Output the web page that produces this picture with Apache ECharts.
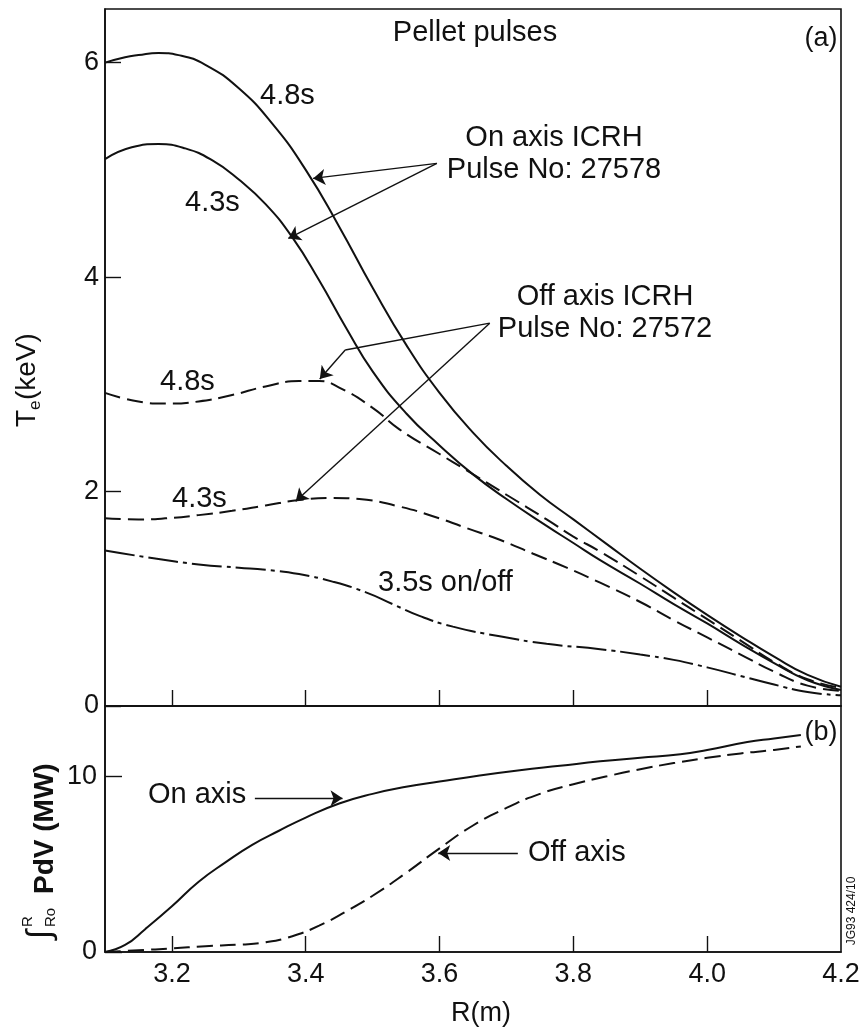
<!DOCTYPE html>
<html>
<head>
<meta charset="utf-8">
<script src="https://cdn.jsdelivr.net/npm/echarts@6/dist/echarts.min.js"></script>
<style>
  html, body { margin: 0; padding: 0; background: #fff; }
  #chart { width: 866px; height: 1033px; }
</style>
</head>
<body>
<div id="chart"></div>
<script>
// ---- Tick positions and labels ----
const R_TICKS = [3.2, 3.4, 3.6, 3.8, 4.0, 4.2];
const T_TICKS = [0, 2, 4, 6];
const P_TICKS = [0, 10];

// ---- (a) Electron temperature profiles, Te (keV) vs R (m) ----
// On axis ICRH, pulse 27578, t = 4.8 s
const R_on48 = [3.10, 3.13, 3.15, 3.18, 3.21, 3.25, 3.30, 3.35, 3.40, 3.45, 3.50, 3.55, 3.60, 3.65, 3.70, 3.75, 3.80, 3.85, 3.90, 3.95, 4.00, 4.05, 4.10, 4.15, 4.20];
const T_on48 = [6.00, 6.05, 6.07, 6.09, 6.07, 5.98, 5.76, 5.43, 5.00, 4.47, 3.90, 3.37, 2.92, 2.55, 2.24, 1.97, 1.74, 1.51, 1.28, 1.06, 0.85, 0.65, 0.46, 0.29, 0.18];
// On axis ICRH, pulse 27578, t = 4.3 s
const R_on43 = [3.10, 3.14, 3.18, 3.22, 3.26, 3.30, 3.34, 3.38, 3.42, 3.46, 3.50, 3.55, 3.60, 3.65, 3.70, 3.76, 3.80, 3.84, 3.90, 3.95, 4.00, 4.05, 4.10, 4.15, 4.20];
const T_on43 = [5.10, 5.21, 5.24, 5.20, 5.09, 4.91, 4.68, 4.37, 3.97, 3.53, 3.12, 2.73, 2.43, 2.16, 1.93, 1.68, 1.52, 1.36, 1.14, 0.95, 0.77, 0.58, 0.40, 0.24, 0.15];
// Off axis ICRH, pulse 27572, t = 4.8 s
const R_off48 = [3.10, 3.15, 3.19, 3.24, 3.29, 3.34, 3.39, 3.42, 3.45, 3.50, 3.54, 3.60, 3.64, 3.70, 3.76, 3.80, 3.84, 3.90, 3.95, 4.00, 4.05, 4.10, 4.15, 4.20];
const T_off48 = [2.92, 2.84, 2.82, 2.84, 2.90, 2.98, 3.03, 3.03, 2.97, 2.78, 2.58, 2.35, 2.20, 1.97, 1.74, 1.58, 1.44, 1.21, 1.01, 0.81, 0.61, 0.41, 0.25, 0.17];
// Off axis ICRH, pulse 27572, t = 4.3 s
const R_off43 = [3.10, 3.15, 3.19, 3.24, 3.29, 3.34, 3.39, 3.44, 3.48, 3.54, 3.59, 3.64, 3.69, 3.74, 3.79, 3.84, 3.90, 3.95, 4.00, 4.05, 4.10, 4.15, 4.20];
const T_off43 = [1.75, 1.74, 1.75, 1.78, 1.82, 1.87, 1.92, 1.94, 1.93, 1.86, 1.77, 1.66, 1.55, 1.42, 1.29, 1.15, 0.97, 0.80, 0.64, 0.48, 0.32, 0.19, 0.14];
// Both pulses, t = 3.5 s (before ICRH)
const R_35 = [3.10, 3.17, 3.24, 3.30, 3.34, 3.39, 3.44, 3.49, 3.53, 3.57, 3.62, 3.69, 3.76, 3.84, 3.90, 3.95, 4.00, 4.05, 4.10, 4.15, 4.20];
const T_35 = [1.45, 1.38, 1.32, 1.29, 1.27, 1.23, 1.16, 1.06, 0.95, 0.84, 0.74, 0.65, 0.58, 0.53, 0.48, 0.43, 0.36, 0.28, 0.20, 0.13, 0.10];

// ---- (b) Integrated ICRH power deposition (MW) vs R (m) ----
const R_pOn = [3.10, 3.13, 3.16, 3.20, 3.24, 3.28, 3.32, 3.36, 3.40, 3.45, 3.50, 3.55, 3.60, 3.66, 3.72, 3.78, 3.84, 3.90, 3.96, 4.00, 4.06, 4.10, 4.14];
const P_on = [0.0, 0.4, 1.3, 2.6, 4.0, 5.1, 6.1, 6.9, 7.65, 8.45, 9.0, 9.4, 9.7, 10.05, 10.35, 10.6, 10.85, 11.05, 11.25, 11.5, 11.95, 12.15, 12.35];
const R_pOff = [3.10, 3.15, 3.20, 3.25, 3.30, 3.34, 3.38, 3.42, 3.46, 3.50, 3.55, 3.60, 3.65, 3.70, 3.75, 3.80, 3.85, 3.90, 3.95, 4.00, 4.05, 4.10, 4.14];
const P_off = [0.0, 0.1, 0.2, 0.33, 0.42, 0.55, 0.9, 1.5, 2.3, 3.2, 4.5, 5.9, 7.2, 8.2, 9.0, 9.55, 10.0, 10.4, 10.75, 11.05, 11.3, 11.5, 11.7];

// ---- Annotation arrows, in data coordinates (tail, head) ----
const arrowsA = [
  [[3.596, 5.06], [3.411, 4.92]],
  [[3.596, 5.06], [3.374, 4.36]],
  [[3.459, 3.32], [3.421, 3.05]],
  [[3.675, 3.57], [3.385, 1.91]]
];
// plain leader segment feeding the bent arrow above
const leadersA = [
  [[3.675, 3.57], [3.459, 3.32]]
];
const arrowsB = [
  [[3.324, 8.75], [3.455, 8.75]],
  [[3.717, 5.63], [3.598, 5.63]]
];

const zip = (xs, ys) => xs.map((x, i) => [x, ys[i]]);

const FONT = "'Liberation Sans', Arial, Helvetica, sans-serif";
const INK = '#111';
const DASH = [16, 7];
const DASH_DOT = [30, 5, 4, 5];

function curve(name, xs, ys, dash, gi) {
  return {
    name, type: 'line', xAxisIndex: gi, yAxisIndex: gi,
    data: zip(xs, ys), showSymbol: false, smooth: 0.5, silent: true,
    lineStyle: { color: INK, width: 2, type: dash }
  };
}

function segments(list, gi, withHead) {
  return {
    type: 'lines', coordinateSystem: 'cartesian2d', xAxisIndex: gi, yAxisIndex: gi,
    polyline: false, silent: true, z: 5,
    symbol: withHead ? ['none', 'arrow'] : ['none', 'none'], symbolSize: 12,
    itemStyle: { color: INK },
    lineStyle: { color: INK, width: 1.4, opacity: 1, curveness: 0 },
    data: list.map(c => ({ coords: c }))
  };
}

function label(text, x, y, align, size, extra) {
  return {
    type: 'text', x, y, silent: true,
    style: Object.assign({
      text, fill: INK, font: (size || 29) + 'px ' + FONT,
      textAlign: align || 'left', textVerticalAlign: 'middle',
      align: align || 'left', verticalAlign: 'middle'
    }, extra || {})
  };
}

const axisLineStyle = { lineStyle: { color: INK, width: 1.6 } };

const option = {
  backgroundColor: '#fff',
  animation: false,
  grid: [
    { left: 105, right: 25, top: 9, height: 697, show: true, borderColor: INK, borderWidth: 1.6, backgroundColor: 'transparent' },
    { left: 105, right: 25, top: 706, height: 246, show: true, borderColor: INK, borderWidth: 1.6, backgroundColor: 'transparent' }
  ],
  xAxis: [
    {
      gridIndex: 0, type: 'value', min: 3.1, max: 4.2,
      axisLine: axisLineStyle, splitLine: { show: false },
      axisTick: { inside: true, length: 16, customValues: R_TICKS.slice(0, -1), lineStyle: { color: INK, width: 1.4 } },
      axisLabel: { show: false }
    },
    {
      gridIndex: 1, type: 'value', min: 3.1, max: 4.2,
      axisLine: axisLineStyle, splitLine: { show: false },
      axisTick: { inside: true, length: 16, customValues: R_TICKS.slice(0, -1), lineStyle: { color: INK, width: 1.4 } },
      axisLabel: {
        customValues: R_TICKS, margin: 9, color: INK, fontSize: 27, fontFamily: FONT,
        formatter: v => v.toFixed(1)
      }
    }
  ],
  yAxis: [
    {
      gridIndex: 0, type: 'value', min: 0, max: 6.5,
      axisLine: axisLineStyle, splitLine: { show: false },
      axisTick: { inside: true, length: 16, customValues: T_TICKS, lineStyle: { color: INK, width: 1.4 } },
      axisLabel: { customValues: T_TICKS, margin: 6, color: INK, fontSize: 27, fontFamily: FONT }
    },
    {
      gridIndex: 1, type: 'value', min: 0, max: 14,
      axisLine: axisLineStyle, splitLine: { show: false },
      axisTick: { inside: true, length: 17, customValues: P_TICKS, lineStyle: { color: INK, width: 1.4 } },
      axisLabel: { customValues: P_TICKS, margin: 8, color: INK, fontSize: 27, fontFamily: FONT }
    }
  ],
  series: [
    curve('On axis 4.8s', R_on48, T_on48, 'solid', 0),
    curve('On axis 4.3s', R_on43, T_on43, 'solid', 0),
    curve('Off axis 4.8s', R_off48, T_off48, DASH, 0),
    curve('Off axis 4.3s', R_off43, T_off43, DASH, 0),
    curve('3.5s on/off', R_35, T_35, DASH_DOT, 0),
    curve('On axis', R_pOn, P_on, 'solid', 1),
    curve('Off axis', R_pOff, P_off, DASH, 1),
    segments(leadersA, 0, false),
    segments(arrowsA, 0, true),
    segments(arrowsB, 1, true)
  ],
  graphic: [
    label('Pellet pulses', 475, 33, 'center'),
    label('(a)', 821, 39, 'center', 27),
    label('4.8s', 260, 96),
    label('4.3s', 185, 203),
    label('On axis ICRH', 554, 138, 'center'),
    label('Pulse No: 27578', 554, 170, 'center'),
    label('Off axis ICRH', 605, 297, 'center'),
    label('Pulse No: 27572', 605, 329, 'center'),
    label('4.8s', 160, 382),
    label('4.3s', 172, 499),
    label('3.5s on/off', 378, 583),
    label('On axis', 148, 795),
    label('Off axis', 528, 853),
    label('(b)', 821, 733, 'center', 27),
    label('R(m)', 481, 1014, 'center', 27),
    // vertical axis title of panel (a): Te(keV)
    {
      type: 'group', x: 27, y: 380, rotation: Math.PI / 2, silent: true,
      children: [
        label('T', -47, 0, 'left', 28),
        label('e', -30, 8, 'left', 17),
        label('(keV)', -20, 0, 'left', 28)
      ]
    },
    // vertical axis title of panel (b): integral from Ro to R of P dV (MW)
    {
      type: 'group', x: 45, y: 847, rotation: Math.PI / 2, silent: true,
      children: [
        label('\u222B', -92, -4, 'left', 34),
        label('R', -80, -17, 'left', 15),
        label('Ro', -80, 6, 'left', 15),
        label('PdV (MW)', -47, 0, 'left', 28, { font: 'bold 28px ' + FONT })
      ]
    },
    // figure reference code along the right edge, reading upward
    Object.assign(label('JG93 424/10', 852, 911, 'center', 12), { rotation: Math.PI / 2 })
  ]
};

const chart = echarts.init(document.getElementById('chart'), null, { renderer: 'canvas' });
chart.setOption(option);
</script>
</body>
</html>
